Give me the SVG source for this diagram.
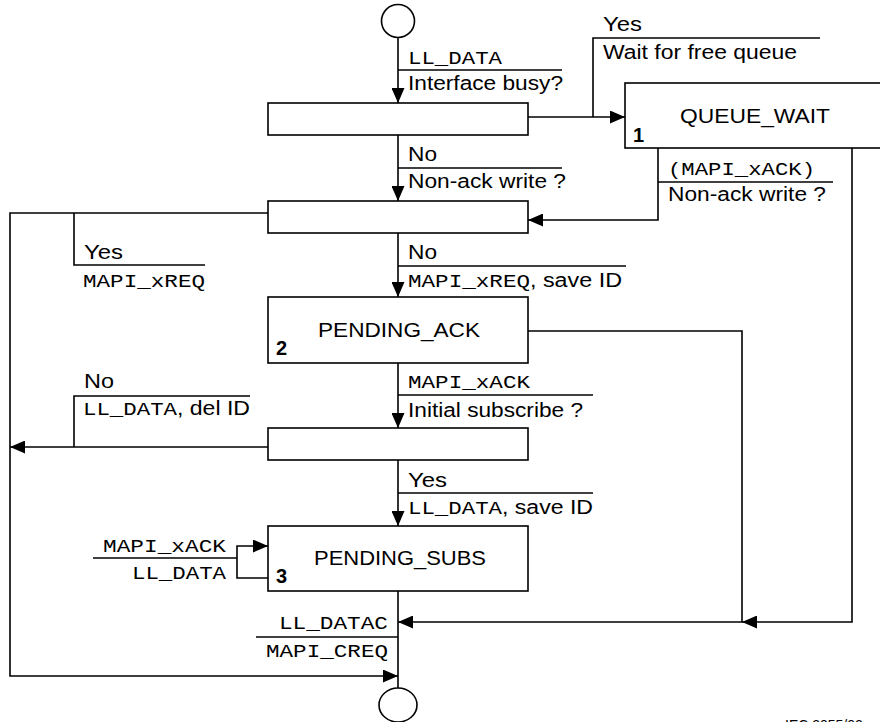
<svg xmlns="http://www.w3.org/2000/svg" width="880" height="722" viewBox="0 0 880 722">
  <style>
    .ln { fill: none; stroke: #000; stroke-width: 1.6; }
    .box { fill: #fff; stroke: #000; stroke-width: 1.6; }
    .sans { font-family: "Liberation Sans", Arial, sans-serif; font-size: 20px; fill: #000; }
    .mono { font-family: "Liberation Mono", "Courier New", monospace; font-size: 19px; fill: #000; }
    .num { font-family: "Liberation Sans", Arial, sans-serif; font-size: 20px; font-weight: bold; fill: #000; }
    .mid { text-anchor: middle; }
    .end { text-anchor: end; }
    .note { font-family: "Liberation Sans", Arial, sans-serif; font-size: 14px; fill: #000; }
  </style>
  <defs>
    <marker id="arrow" markerUnits="userSpaceOnUse" markerWidth="15" markerHeight="13" refX="15" refY="6.5" orient="auto">
      <path d="M0,0 L15,6.5 L0,13 z" fill="#000"/>
    </marker>
  </defs>
  <rect width="880" height="722" fill="#fff"/>

  <!-- transitions, with the bar lines that separate signal from action -->
  <g id="connectors">
    <line class="ln" x1="398" y1="38" x2="398" y2="103" marker-end="url(#arrow)"/>
    <line class="ln" x1="398" y1="70" x2="562" y2="70"/>

    <line class="ln" x1="528" y1="117" x2="625" y2="117" marker-end="url(#arrow)"/>
    <path class="ln" d="M593,117 V38 H820"/>

    <line class="ln" x1="398" y1="135" x2="398" y2="201" marker-end="url(#arrow)"/>
    <line class="ln" x1="398" y1="168" x2="562" y2="168"/>

    <path class="ln" d="M658,148 V220 H528" marker-end="url(#arrow)"/>
    <line class="ln" x1="658" y1="182" x2="833" y2="182"/>

    <path class="ln" d="M268,213 H10 V676 H398" marker-end="url(#arrow)"/>
    <path class="ln" d="M74,213 V265 H205"/>

    <line class="ln" x1="398" y1="233" x2="398" y2="297" marker-end="url(#arrow)"/>
    <line class="ln" x1="398" y1="266" x2="626" y2="266"/>

    <path class="ln" d="M528,331 H742 V622 H398" marker-end="url(#arrow)"/>
    <path class="ln" d="M852,148 V622 H742" marker-end="url(#arrow)"/>

    <line class="ln" x1="398" y1="363" x2="398" y2="428" marker-end="url(#arrow)"/>
    <line class="ln" x1="398" y1="395" x2="593" y2="395"/>

    <path class="ln" d="M268,447 H10" marker-end="url(#arrow)"/>
    <path class="ln" d="M74,447 V396 H250"/>

    <line class="ln" x1="398" y1="460" x2="398" y2="526" marker-end="url(#arrow)"/>
    <line class="ln" x1="398" y1="493" x2="593" y2="493"/>

    <path class="ln" d="M268,578 H237 V546 H268" marker-end="url(#arrow)"/>
    <line class="ln" x1="93" y1="558" x2="237" y2="558"/>

    <line class="ln" x1="398" y1="591" x2="398" y2="688"/>
    <line class="ln" x1="256" y1="637" x2="398" y2="637"/>
  </g>

  <!-- transition labels -->
  <g id="labels">
    <text class="mono" x="408" y="64" textLength="94" lengthAdjust="spacingAndGlyphs">LL_DATA</text>
    <text class="sans" x="408" y="90" textLength="155" lengthAdjust="spacingAndGlyphs">Interface busy?</text>

    <text class="sans" x="603" y="31" textLength="39" lengthAdjust="spacingAndGlyphs">Yes</text>
    <text class="sans" x="603" y="59" textLength="194" lengthAdjust="spacingAndGlyphs">Wait for free queue</text>

    <text class="sans" x="408" y="161" textLength="29" lengthAdjust="spacingAndGlyphs">No</text>
    <text class="sans" x="408" y="188" textLength="158" lengthAdjust="spacingAndGlyphs">Non-ack write ?</text>

    <text class="mono" x="668" y="175" textLength="147" lengthAdjust="spacingAndGlyphs">(MAPI_xACK)</text>
    <text class="sans" x="668" y="201" textLength="158" lengthAdjust="spacingAndGlyphs">Non-ack write ?</text>

    <text class="sans" x="84" y="259" textLength="39" lengthAdjust="spacingAndGlyphs">Yes</text>
    <text class="mono" x="83" y="287" textLength="122" lengthAdjust="spacingAndGlyphs">MAPI_xREQ</text>

    <text class="sans" x="408" y="259" textLength="29" lengthAdjust="spacingAndGlyphs">No</text>
    <text class="mono" x="408" y="287" textLength="122" lengthAdjust="spacingAndGlyphs">MAPI_xREQ</text>
    <text class="sans" x="530" y="287" textLength="92" lengthAdjust="spacingAndGlyphs">, save ID</text>

    <text class="mono" x="408" y="388" textLength="122" lengthAdjust="spacingAndGlyphs">MAPI_xACK</text>
    <text class="sans" x="408" y="417" textLength="175" lengthAdjust="spacingAndGlyphs">Initial subscribe ?</text>

    <text class="sans" x="84" y="388" textLength="30" lengthAdjust="spacingAndGlyphs">No</text>
    <text class="mono" x="83" y="415" textLength="94" lengthAdjust="spacingAndGlyphs">LL_DATA</text>
    <text class="sans" x="177" y="415" textLength="73" lengthAdjust="spacingAndGlyphs">, del ID</text>

    <text class="sans" x="408" y="487" textLength="39" lengthAdjust="spacingAndGlyphs">Yes</text>
    <text class="mono" x="408" y="514" textLength="94" lengthAdjust="spacingAndGlyphs">LL_DATA</text>
    <text class="sans" x="502" y="514" textLength="91" lengthAdjust="spacingAndGlyphs">, save ID</text>

    <text class="mono" x="103" y="552" textLength="123" lengthAdjust="spacingAndGlyphs">MAPI_xACK</text>
    <text class="mono" x="132" y="579" textLength="94" lengthAdjust="spacingAndGlyphs">LL_DATA</text>

    <text class="mono" x="279" y="629" textLength="109" lengthAdjust="spacingAndGlyphs">LL_DATAC</text>
    <text class="mono" x="266" y="657" textLength="122" lengthAdjust="spacingAndGlyphs">MAPI_CREQ</text>
  </g>

  <g id="start">
    <circle class="box" cx="398" cy="21" r="16.5"/>
  </g>

  <g id="decision-busy">
    <rect class="box" x="268" y="103" width="260" height="32"/>
  </g>

  <g id="state-queue-wait">
    <rect class="box" x="625" y="83" width="262" height="65"/>
    <text class="sans" x="680" y="123" textLength="150" lengthAdjust="spacingAndGlyphs">QUEUE_WAIT</text>
    <text class="num" x="633" y="142">1</text>
  </g>

  <g id="decision-nonack">
    <rect class="box" x="268" y="201" width="260" height="32"/>
  </g>

  <g id="state-pending-ack">
    <rect class="box" x="268" y="297" width="260" height="66"/>
    <text class="sans" x="318" y="337" textLength="162" lengthAdjust="spacingAndGlyphs">PENDING_ACK</text>
    <text class="num" x="276" y="355">2</text>
  </g>

  <g id="decision-subscribe">
    <rect class="box" x="268" y="428" width="260" height="32"/>
  </g>

  <g id="state-pending-subs">
    <rect class="box" x="268" y="526" width="260" height="65"/>
    <text class="sans" x="314" y="565" textLength="172" lengthAdjust="spacingAndGlyphs">PENDING_SUBS</text>
    <text class="num" x="276" y="583">3</text>
  </g>

  <g id="end">
    <ellipse class="box" cx="398" cy="705" rx="19" ry="17"/>
  </g>

  <text class="note" x="785" y="730">IEC 2055/02</text>
</svg>
